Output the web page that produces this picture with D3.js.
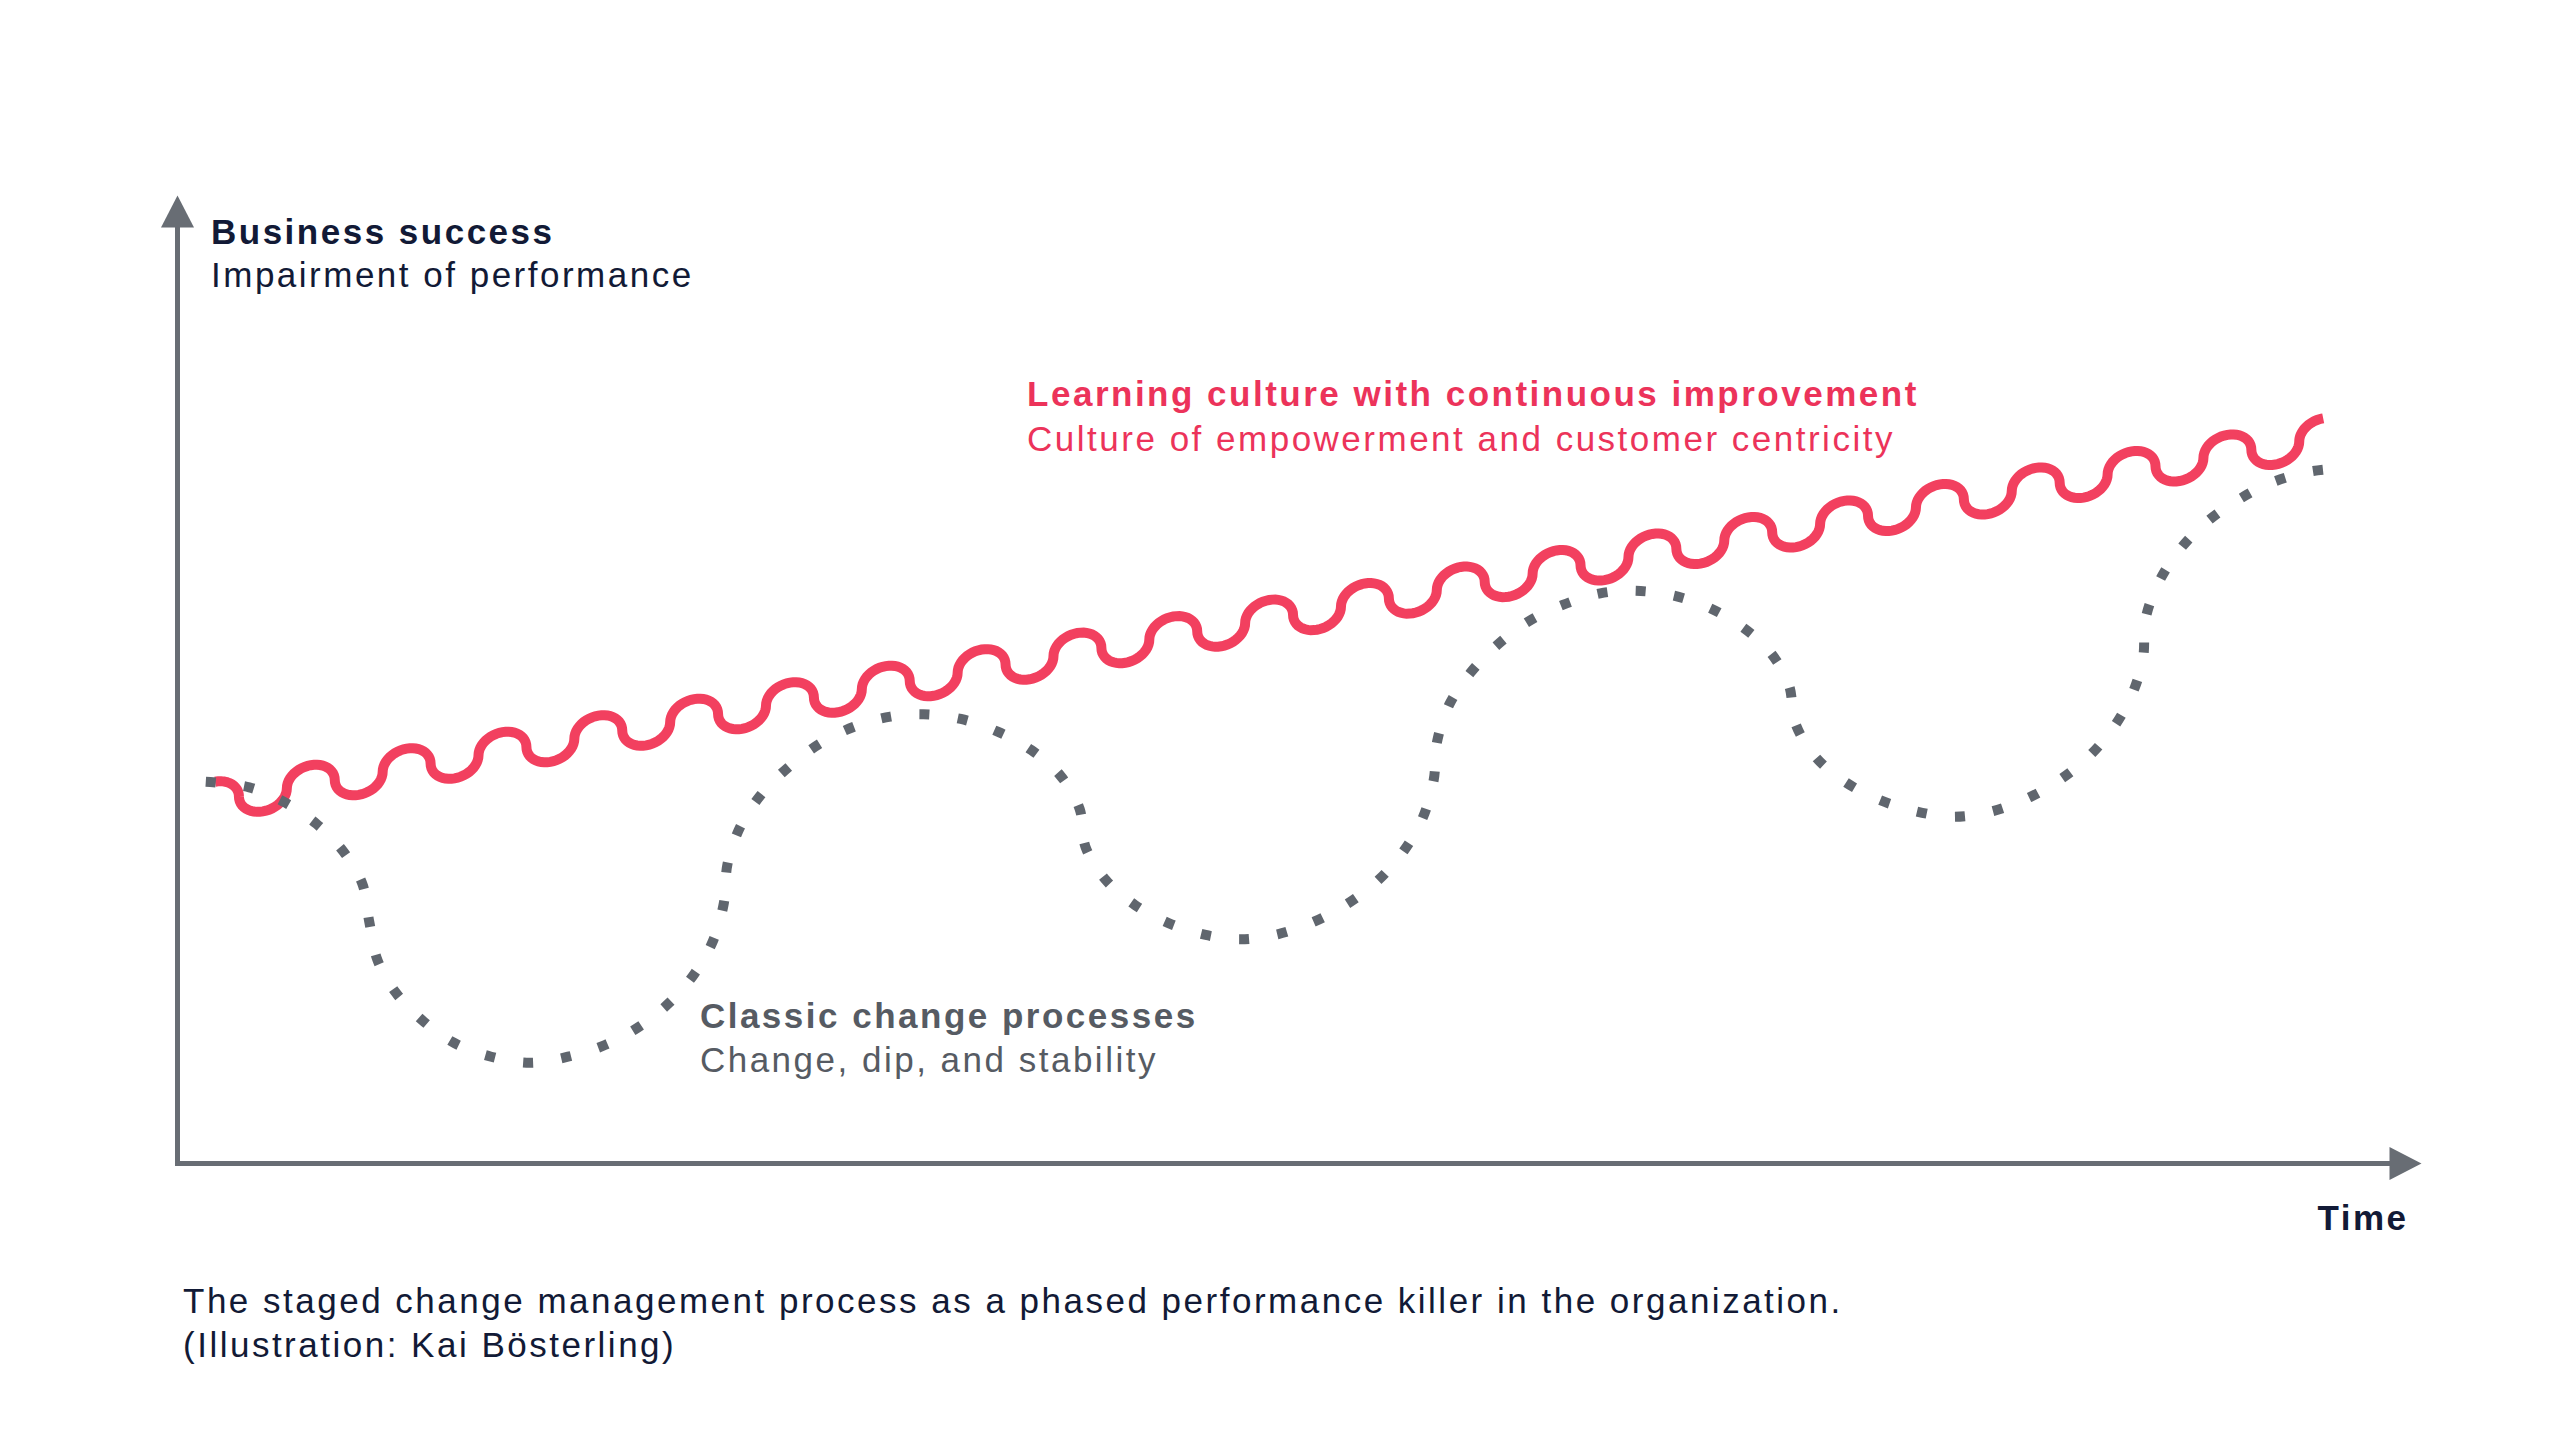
<!DOCTYPE html>
<html>
<head>
<meta charset="utf-8">
<script src="https://cdn.jsdelivr.net/npm/d3@7"></script>
<style>
  body { margin: 0; background: #fff; }
  svg { display: block; font-family: "Liberation Sans", Arial, sans-serif; }
  .lbl { font-size: 35px; letter-spacing: 2.5px; }
  .bold { font-weight: bold; }
</style>
</head>
<body>
<div id="chart"></div>
<script>
/* Datos: tiempo (0-100) contra éxito del negocio (0-100) */

// Cultura de aprendizaje: tendencia recta, dibujada como onda
var learningT = [1.67, 95.62];
var learningV = [37.48, 75.02];
var learningWaves = 22;

// Procesos de cambio clásicos: curva punteada
var classicT = [1.26, 3.20, 4.81, 6.20, 7.40, 8.24, 8.55, 8.91, 9.75, 10.98, 12.36, 13.98, 15.71, 17.40,
  19.05, 20.57, 21.92, 23.05, 23.88, 24.35, 24.51, 25.06, 25.97, 27.20, 28.58, 30.15, 31.77, 33.24,
  34.91, 36.55, 38.04, 39.35, 40.20, 40.46, 41.37, 42.67, 44.19, 45.82, 47.38, 49.02, 50.65, 52.17,
  53.52, 54.65, 55.50, 55.98, 56.13, 56.68, 57.62, 58.81, 60.18, 61.73, 63.40, 64.84, 66.54, 68.15,
  69.67, 70.96, 71.81, 72.09, 72.96, 74.26, 75.78, 77.41, 78.99, 80.62, 82.27, 83.76, 85.12, 86.25,
  87.09, 87.59, 87.70, 88.28, 89.19, 90.39, 91.82, 93.31, 95.00, 96.59];
var classicV = [39.44, 38.86, 37.27, 35.07, 32.21, 28.87, 24.92, 21.02, 17.58, 14.65, 12.42, 11.03, 10.41, 11.03,
  12.24, 14.13, 16.61, 19.65, 23.09, 26.94, 30.94, 34.69, 38.00, 40.89, 43.31, 45.12, 46.16, 46.40,
  45.92, 44.61, 42.72, 40.06, 36.65, 32.73, 29.29, 26.70, 24.81, 23.61, 23.16, 23.68, 24.98, 26.88,
  29.29, 32.31, 35.76, 39.62, 43.57, 47.44, 50.70, 53.56, 55.97, 57.70, 58.90, 59.17, 58.73, 57.52,
  55.53, 52.87, 49.43, 45.51, 42.10, 39.51, 37.62, 36.42, 35.83, 36.24, 37.55, 39.44, 41.92, 44.96,
  48.40, 52.19, 56.22, 60.00, 63.31, 66.20, 68.54, 70.33, 71.47, 71.85];

// Textos
var yTitle = ["Business success", "Impairment of performance"];
var xTitle = "Time";
var learningLabel = ["Learning culture with continuous improvement", "Culture of empowerment and customer centricity"];
var classicLabel = ["Classic change processes", "Change, dip, and stability"];
var caption = ["The staged change management process as a phased performance killer in the organization.",
  "(Illustration: Kai Bösterling)"];

var W = 2560, H = 1440;
var navy = "#121a36", red = "#f2405f", redText = "#ec335a", grey = "#60666e", greyText = "#565b63", axisC = "#686d74";

var svg = d3.select("#chart").append("svg")
    .attr("width", W)
    .attr("height", H);

svg.append("rect").attr("width", W).attr("height", H).attr("fill", "#fff");

// Escalas
var x = d3.scaleLinear().domain([0, 100]).range([177.5, 2421.5]);
var y = d3.scaleLinear().domain([0, 100]).range([1163.5, 195.5]);

// Ejes con flecha
var head = 32, half = 16.5;
svg.append("line")
    .attr("x1", x(0)).attr("x2", x(0))
    .attr("y1", y(0) + 2.5).attr("y2", y(100) + head - 1)
    .attr("stroke", axisC).attr("stroke-width", 5);
svg.append("path")
    .attr("d", "M" + x(0) + "," + y(100) + "L" + (x(0) + half) + "," + (y(100) + head) +
      "L" + (x(0) - half) + "," + (y(100) + head) + "Z")
    .attr("fill", axisC);
svg.append("line")
    .attr("x1", x(0) - 2.5).attr("x2", x(100) - head + 1)
    .attr("y1", y(0)).attr("y2", y(0))
    .attr("stroke", axisC).attr("stroke-width", 5);
svg.append("path")
    .attr("d", "M" + x(100) + "," + y(0) + "L" + (x(100) - head) + "," + (y(0) - half) +
      "L" + (x(100) - head) + "," + (y(0) + half) + "Z")
    .attr("fill", axisC);

// Onda: cadena de semielipses sobre la tendencia
function wavePoints(n) {
  var x0 = x(learningT[0]), y0 = y(learningV[0]),
      x1 = x(learningT[1]), y1 = y(learningV[1]);
  var hp = (x1 - x0) / (n * 2), rx = hp / 2, amp = 19,
      slope = (y1 - y0) / (x1 - x0),
      pts = [];
  for (var k = 0; k <= n * 2; k++) {
    var c = k * hp, sign = k % 2 === 0 ? -1 : 1,
        a0 = k === 0 ? Math.PI / 2 : Math.PI,
        a1 = k === n * 2 ? Math.PI / 2 : 0;
    for (var i = (k === 0 ? 0 : 1); i <= 24; i++) {
      var al = a0 + (a1 - a0) * i / 24,
          s = c + rx * Math.cos(al);
      pts.push([x0 + s, y0 + slope * s + sign * amp * Math.sin(al)]);
    }
  }
  return pts;
}

svg.append("path")
    .attr("d", d3.line()(wavePoints(learningWaves)))
    .attr("fill", "none")
    .attr("stroke", red)
    .attr("stroke-width", 10);

// Curva punteada
var classic = classicT.map(function(t, i) { return {t: t, v: classicV[i]}; });
svg.append("path")
    .datum(classic)
    .attr("d", d3.line()
      .x(function(d) { return x(d.t); })
      .y(function(d) { return y(d.v); })
      .curve(d3.curveCatmullRom.alpha(0.5)))
    .attr("fill", "none")
    .attr("stroke", grey)
    .attr("stroke-width", 10)
    .attr("stroke-dasharray", "10 28.5");

// Etiquetas
function twoLines(lines, px, py, gap, color1, color2) {
  var g = svg.append("g");
  g.append("text").attr("class", "lbl bold").attr("x", px).attr("y", py).attr("fill", color1).text(lines[0]);
  g.append("text").attr("class", "lbl").attr("x", px).attr("y", py + gap).attr("fill", color2).text(lines[1]);
}

twoLines(yTitle, x(0) + 33.5, y(95), 43, navy, navy);
twoLines(learningLabel, x(37.86), y(78.25), 45, redText, redText);
twoLines(classicLabel, x(23.28), y(14), 44, greyText, greyText);

svg.append("text")
    .attr("class", "lbl bold")
    .attr("x", x(100) - 104)
    .attr("y", y(0) + 66.5)
    .attr("fill", navy)
    .text(xTitle);

twoLines(caption, 183, 1313, 44, navy, navy);
svg.selectAll("text").filter(function() { return this.textContent === caption[0]; }).attr("font-weight", "normal").classed("bold", false);
</script>
</body>
</html>
